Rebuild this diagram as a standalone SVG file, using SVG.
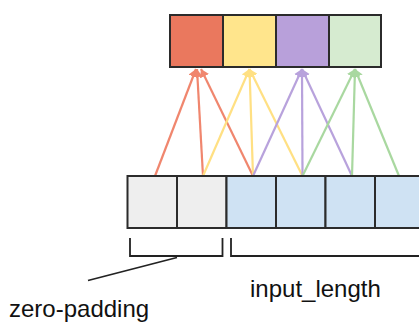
<svg xmlns="http://www.w3.org/2000/svg" width="419" height="323" viewBox="0 0 419 323">
<style>
.box{stroke:#2b2b2b;stroke-width:2}
.pad{fill:#eeeeee}
.in{fill:#cfe2f3}
.c{fill:none;stroke-width:2.2}
.r{stroke:#f0866e}
.y{stroke:#ffe083}
.p{stroke:#b8a2dc}
.g{stroke:#a9d8a0}
.br{fill:none;stroke:#222;stroke-width:1.8}
text{font-family:"Liberation Sans",Arial,sans-serif;font-size:24px;fill:#111}
</style>
<defs>
<marker id="mr" markerUnits="userSpaceOnUse" markerWidth="10" markerHeight="10" refX="8" refY="5" orient="auto"><path d="M0,0 L8,5 L0,10 z" fill="#f0866e"/></marker>
<marker id="my" markerUnits="userSpaceOnUse" markerWidth="10" markerHeight="10" refX="8" refY="5" orient="auto"><path d="M0,0 L8,5 L0,10 z" fill="#ffe083"/></marker>
<marker id="mp" markerUnits="userSpaceOnUse" markerWidth="10" markerHeight="10" refX="8" refY="5" orient="auto"><path d="M0,0 L8,5 L0,10 z" fill="#b8a2dc"/></marker>
<marker id="mg" markerUnits="userSpaceOnUse" markerWidth="10" markerHeight="10" refX="8" refY="5" orient="auto"><path d="M0,0 L8,5 L0,10 z" fill="#a9d8a0"/></marker>
</defs>
<g id="connectors">
<line class="c r" x1="155" y1="176" x2="196" y2="69" marker-end="url(#mr)"/>
<line class="c r" x1="203" y1="176" x2="197" y2="69" marker-end="url(#mr)"/>
<line class="c r" x1="253" y1="176" x2="201" y2="69" marker-end="url(#mr)"/>
<line class="c y" x1="203" y1="176" x2="249.5" y2="69" marker-end="url(#my)"/>
<line class="c y" x1="253" y1="176" x2="249.5" y2="69" marker-end="url(#my)"/>
<line class="c y" x1="302.5" y1="176" x2="249.5" y2="69" marker-end="url(#my)"/>
<line class="c p" x1="253" y1="176" x2="302" y2="69" marker-end="url(#mp)"/>
<line class="c p" x1="302.5" y1="176" x2="302" y2="69" marker-end="url(#mp)"/>
<line class="c p" x1="352" y1="176" x2="302" y2="69" marker-end="url(#mp)"/>
<line class="c g" x1="302.5" y1="176" x2="355" y2="69" marker-end="url(#mg)"/>
<line class="c g" x1="352" y1="176" x2="355" y2="69" marker-end="url(#mg)"/>
<line class="c g" x1="399" y1="176" x2="355" y2="69" marker-end="url(#mg)"/>
<path class="br" d="M130,238 V256 H222.5 V238"/>
<path class="br" d="M231,238 V256 H420"/>
<line class="br" x1="88" y1="280.5" x2="177" y2="257.5"/>
</g>
<g id="out1"><rect class="box" x="170" y="15" width="53" height="52" fill="#ea785e"/></g>
<g id="out2"><rect class="box" x="223" y="15" width="53" height="52" fill="#ffe58c"/></g>
<g id="out3"><rect class="box" x="276" y="15" width="53" height="52" fill="#b8a0da"/></g>
<g id="out4"><rect class="box" x="329" y="15" width="52" height="52" fill="#d6ebd0"/></g>
<g id="pad1"><rect class="box pad" x="127.5" y="176" width="49.5" height="52"/></g>
<g id="pad2"><rect class="box pad" x="177" y="176" width="49.5" height="52"/></g>
<g id="in1"><rect class="box in" x="226.5" y="176" width="49.5" height="52"/></g>
<g id="in2"><rect class="box in" x="276" y="176" width="49.5" height="52"/></g>
<g id="in3"><rect class="box in" x="325.5" y="176" width="49.5" height="52"/></g>
<g id="in4"><rect class="box in" x="375" y="176" width="49.5" height="52"/></g>
<g id="labels">
<text x="9" y="317">zero-padding</text>
<text x="250" y="296.5">input_length</text>
</g>
</svg>
